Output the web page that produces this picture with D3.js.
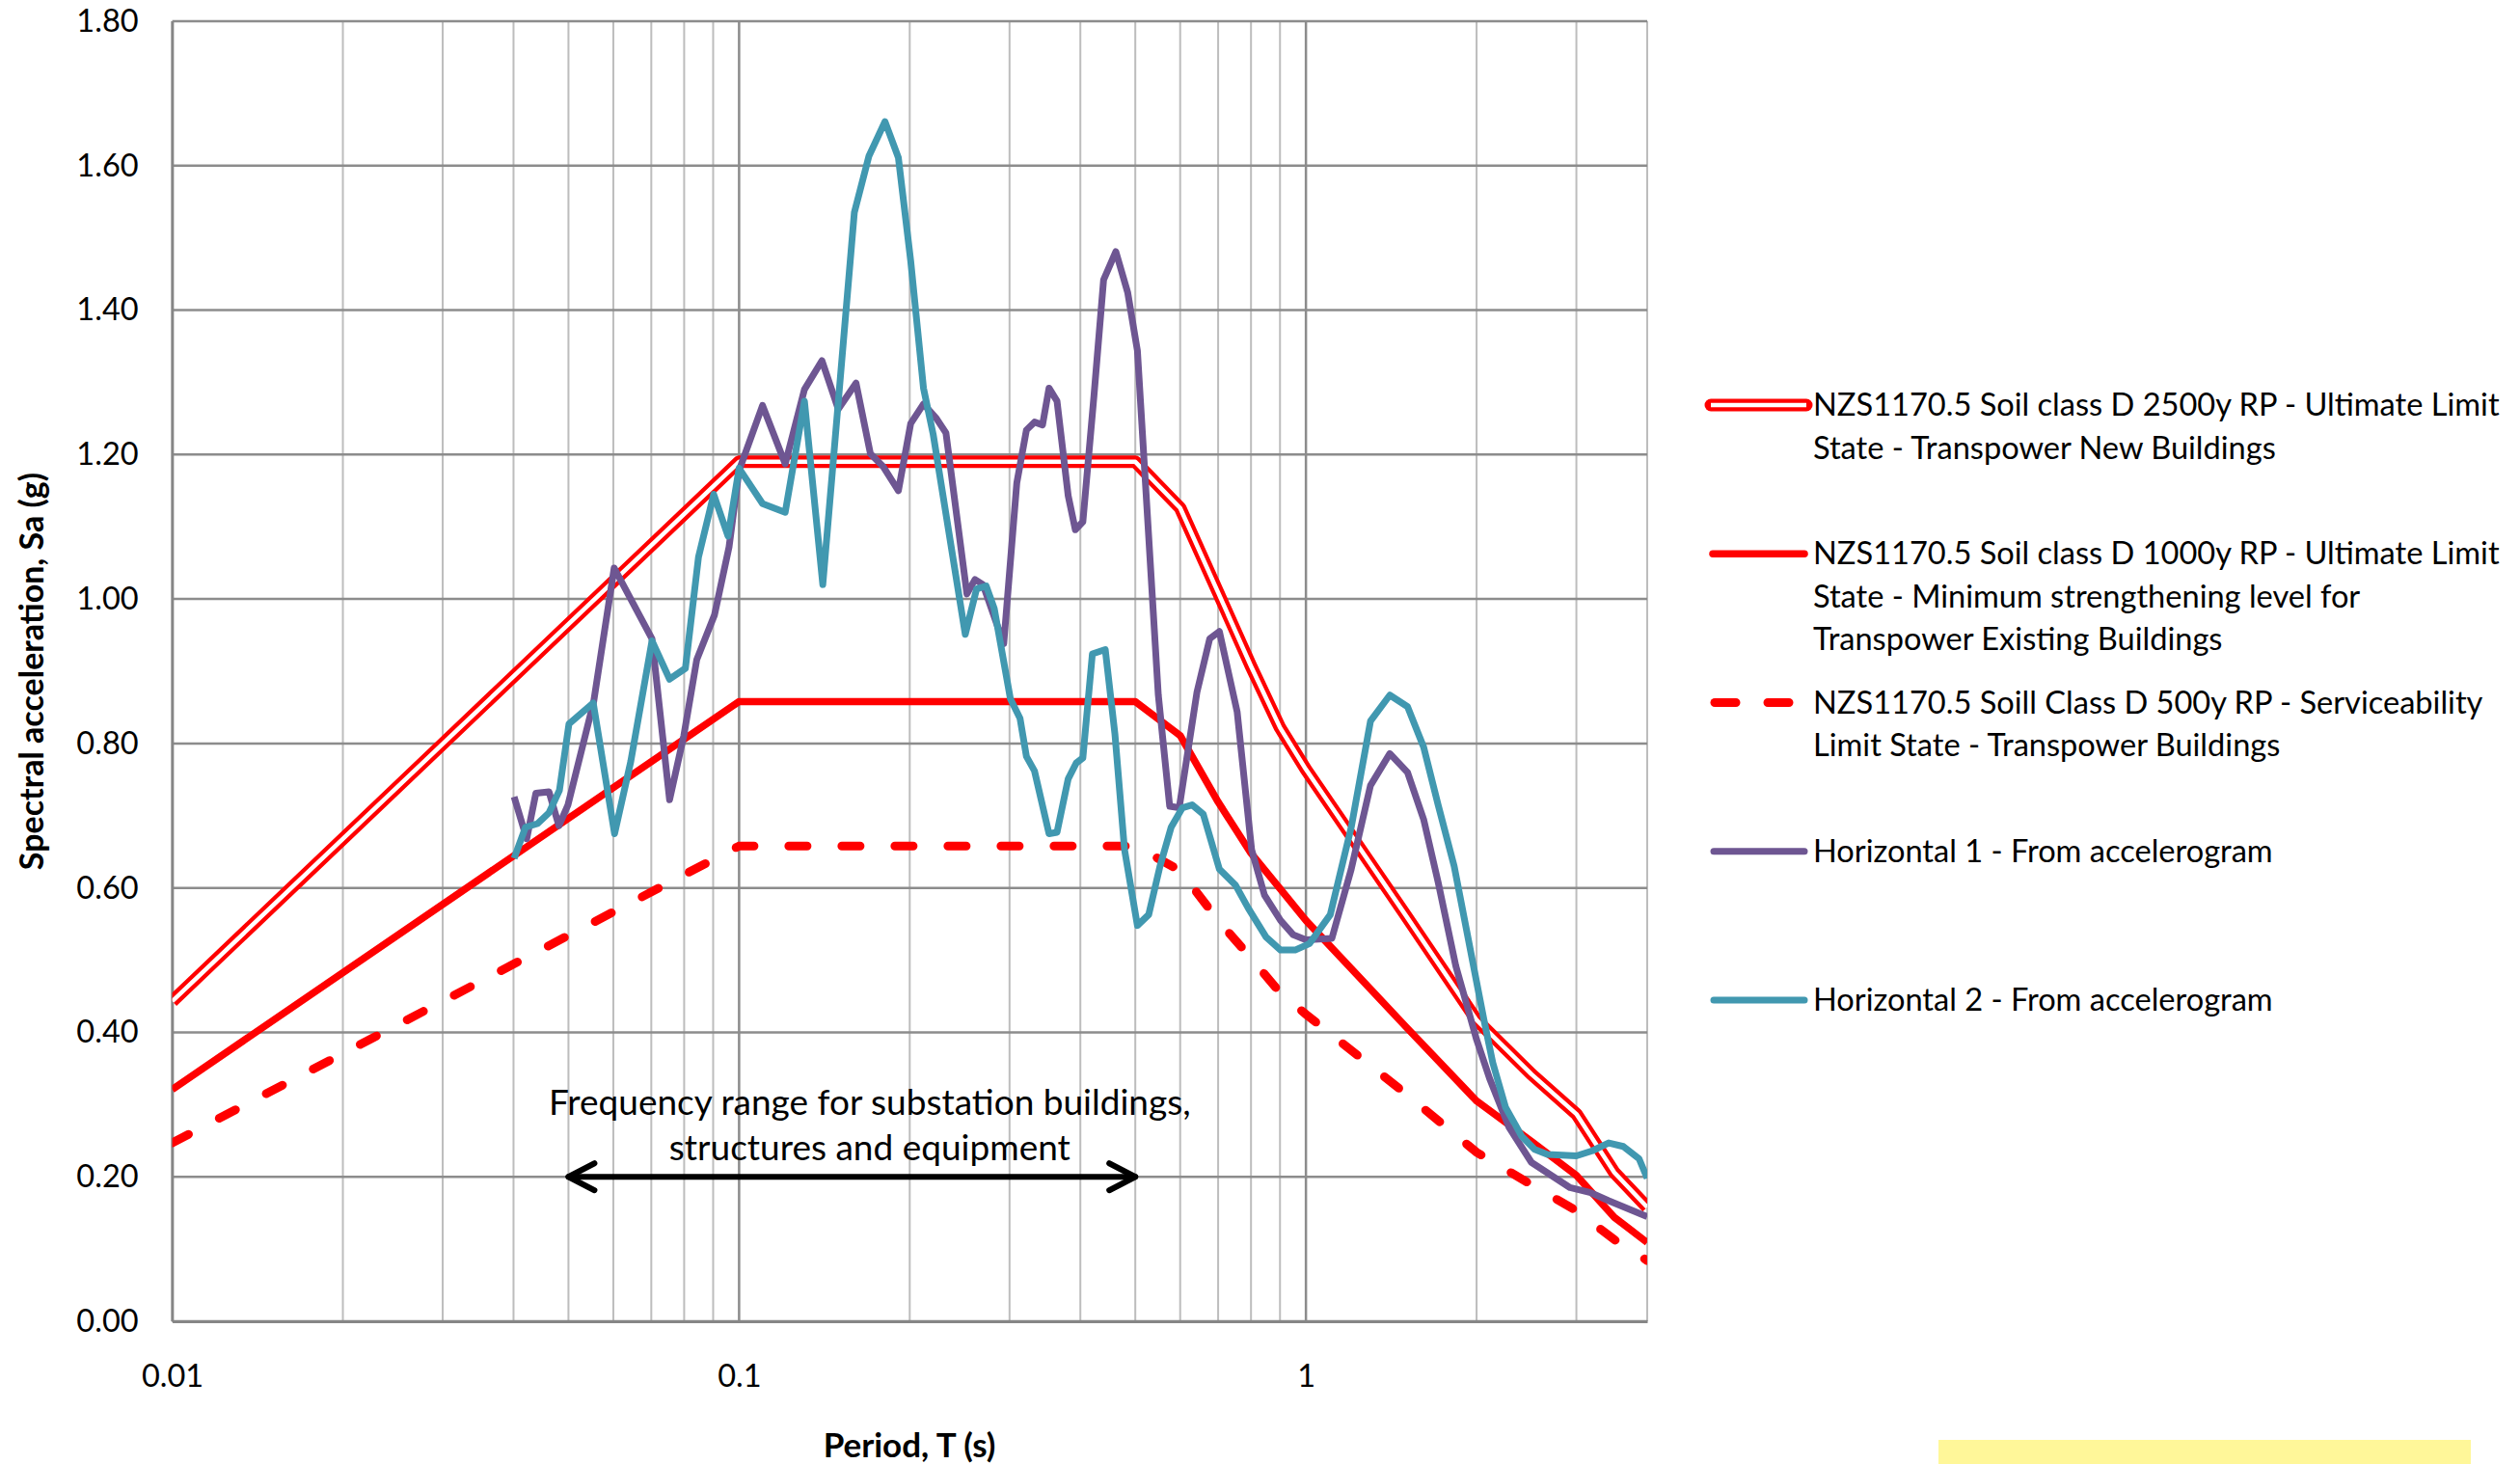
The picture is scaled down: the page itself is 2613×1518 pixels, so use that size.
<!DOCTYPE html>
<html>
<head>
<meta charset="utf-8">
<script src="https://cdn.jsdelivr.net/npm/d3@7"></script>
<style>
  body { margin: 0; background: #fff; }
  svg { display: block; }
  text { font-family: Lato, "Open Sans", sans-serif; fill: #000; }
</style>
</head>
<body>
<div id="chart"></div>
<script>
// NZS1170.5 design spectra (soil class D)
var nzsPeriod = [0.01, 0.1, 0.2, 0.3, 0.4, 0.5, 0.6, 0.7, 0.8, 0.9, 1.0, 1.5, 2.0, 2.5, 3.0, 3.5, 4.0]
var sa2500 = [0.443, 1.19, 1.19, 1.19, 1.19, 1.19, 1.126, 1.009, 0.907, 0.822, 0.764, 0.562, 0.417, 0.342, 0.287, 0.206, 0.158]
var sa1000 = [0.321, 0.858, 0.858, 0.858, 0.858, 0.858, 0.811, 0.719, 0.648, 0.599, 0.555, 0.408, 0.305, 0.249, 0.202, 0.144, 0.109]
var sa500 = [0.247, 0.658, 0.658, 0.658, 0.658, 0.658, 0.624, 0.555, 0.503, 0.455, 0.425, 0.315, 0.234, 0.189, 0.153, 0.113, 0.084]

// response spectra from accelerogram
var h1Period = [0.0401, 0.0422, 0.0438, 0.0462, 0.0481, 0.0499, 0.0554, 0.0602, 0.0702, 0.0754,
    0.0799, 0.0842, 0.0905, 0.096, 0.1, 0.11, 0.1206, 0.1304, 0.14, 0.1496,
    0.1608, 0.1705, 0.1797, 0.191, 0.2008, 0.2115, 0.2229, 0.2317, 0.2523, 0.2607,
    0.2693, 0.293, 0.309, 0.3213, 0.332, 0.343, 0.3522, 0.3638, 0.3807, 0.3919,
    0.4041, 0.4227, 0.4396, 0.462, 0.4849, 0.5043, 0.549, 0.575, 0.5977, 0.6423,
    0.6765, 0.7036, 0.7562, 0.802, 0.845, 0.902, 0.95, 1.0, 1.111, 1.202,
    1.30, 1.406, 1.511, 1.613, 1.711, 1.838, 2.0, 2.109, 2.28, 2.499,
    2.924, 3.18, 3.42, 4.0]
var h1Sa = [0.726, 0.668, 0.731, 0.733, 0.686, 0.715, 0.858, 1.043, 0.945, 0.722,
    0.811, 0.916, 0.978, 1.072, 1.178, 1.268, 1.187, 1.29, 1.33, 1.263,
    1.299, 1.201, 1.183, 1.15, 1.243, 1.27, 1.25, 1.23, 1.007, 1.027,
    1.02, 0.938, 1.161, 1.234, 1.245, 1.241, 1.292, 1.274, 1.143, 1.096,
    1.107, 1.281, 1.442, 1.481, 1.424, 1.344, 0.867, 0.713, 0.711, 0.871,
    0.945, 0.955, 0.844, 0.653, 0.590, 0.555, 0.535, 0.528, 0.530, 0.626,
    0.742, 0.786, 0.760, 0.695, 0.608, 0.492, 0.390, 0.336, 0.269, 0.220,
    0.185, 0.178, 0.167, 0.145]

var h2Period = [0.0401, 0.042, 0.0441, 0.0462, 0.0482, 0.0501, 0.0553, 0.0603, 0.0644, 0.0702,
    0.0754, 0.0804, 0.0848, 0.0902, 0.0956, 0.1, 0.11, 0.1206, 0.1304, 0.1405,
    0.1597, 0.1694, 0.1809, 0.191, 0.2008, 0.2115, 0.22, 0.2506, 0.2624, 0.2729,
    0.2819, 0.301, 0.313, 0.3213, 0.332, 0.3522, 0.3638, 0.3807, 0.3934, 0.4041,
    0.42, 0.4426, 0.4603, 0.4786, 0.5043, 0.528, 0.5527, 0.5784, 0.6055, 0.6297,
    0.659, 0.7036, 0.751, 0.791, 0.8505, 0.902, 0.957, 1.015, 1.104, 1.202,
    1.30, 1.406, 1.511, 1.613, 1.711, 1.826, 2.06, 2.136, 2.25, 2.403,
    2.532, 2.667, 3.0, 3.2, 3.42, 3.63, 3.87, 4.0]
var h2Sa = [0.641, 0.684, 0.689, 0.704, 0.735, 0.827, 0.856, 0.675, 0.775, 0.942,
    0.889, 0.904, 1.058, 1.145, 1.087, 1.181, 1.132, 1.12, 1.274, 1.020,
    1.535, 1.613, 1.661, 1.611, 1.468, 1.292, 1.228, 0.951, 1.014, 1.018,
    0.987, 0.862, 0.835, 0.782, 0.762, 0.675, 0.677, 0.751, 0.773, 0.780,
    0.924, 0.930, 0.813, 0.653, 0.548, 0.563, 0.630, 0.684, 0.711, 0.715,
    0.702, 0.626, 0.604, 0.572, 0.532, 0.514, 0.514, 0.523, 0.563, 0.684,
    0.831, 0.867, 0.851, 0.795, 0.715, 0.630, 0.418, 0.358, 0.296, 0.256,
    0.238, 0.231, 0.229, 0.236, 0.247, 0.242, 0.225, 0.198]

var xLabels = [0.01, 0.1, 1]
var rangeStart = 0.05, rangeEnd = 0.5, rangeLevel = 0.2

var legendNames = [
    ["NZS1170.5 Soil class D 2500y RP - Ultimate Limit", "State - Transpower New Buildings"],
    ["NZS1170.5 Soil class D 1000y RP - Ultimate Limit", "State - Minimum strengthening level for", "Transpower Existing Buildings"],
    ["NZS1170.5 Soill Class D 500y RP - Serviceability", "Limit State - Transpower Buildings"],
    ["Horizontal 1 - From accelerogram"],
    ["Horizontal 2 - From accelerogram"]
]

var W = 2613, H = 1518
var margin = {top: 22, left: 178.6, right: 905, bottom: 148}
var red = "#ff0000", purple = "#6e5692", teal = "#4198b0"

var svg = d3.select("#chart").append("svg")
    .attr("width", W).attr("height", H)

var x = d3.scaleLog().domain([0.01, 4]).range([margin.left, W - margin.right])
var y = d3.scaleLinear().domain([0, 1.8]).range([H - margin.bottom, margin.top])

svg.append("clipPath").attr("id", "plot-clip")
    .append("rect")
    .attr("x", x(0.01)).attr("y", y(1.8) - 10)
    .attr("width", x(4) - x(0.01)).attr("height", y(0) - y(1.8) + 20)

// gridlines
var isDecade = d => Math.abs(Math.log10(d) - Math.round(Math.log10(d))) < 1e-6
svg.append("g")
    .selectAll("line")
    .data(x.ticks())
    .enter().append("line")
        .attr("x1", d => x(d)).attr("x2", d => x(d))
        .attr("y1", y(1.8)).attr("y2", y(0))
        .attr("stroke", d => isDecade(d) ? "#8c8c8c" : "#bdbdbd")
        .attr("stroke-width", d => isDecade(d) ? 2.5 : 2)

svg.append("g")
    .selectAll("line")
    .data(y.ticks(9))
    .enter().append("line")
        .attr("x1", x(0.01)).attr("x2", x(4))
        .attr("y1", d => y(d)).attr("y2", d => y(d))
        .attr("stroke", "#8c8c8c")
        .attr("stroke-width", 2.5)

// axes
svg.append("g")
    .attr("transform", "translate(" + x(0.01) + ",0)")
    .call(d3.axisLeft(y).tickValues(y.ticks(9)).tickFormat(d3.format(".2f")).tickSize(0).tickPadding(35))
    .call(g => g.select(".domain").attr("stroke", "#868686").attr("stroke-width", 2.5))
    .selectAll("text").attr("font-size", 32.5).attr("font-family", "Lato")

svg.append("g")
    .attr("transform", "translate(0," + y(0) + ")")
    .call(d3.axisBottom(x).tickValues(xLabels).tickFormat(d => d).tickSize(0).tickPadding(45))
    .call(g => g.select(".domain").attr("stroke", "#868686").attr("stroke-width", 3))
    .selectAll("text").attr("font-size", 32.5).attr("font-family", "Lato")

// series
var plot = svg.append("g").attr("clip-path", "url(#plot-clip)")
var line = d3.line().x(d => x(d[0])).y(d => y(d[1]))
var zip = (a, b) => a.map((d, i) => [d, b[i]])

plot.append("path").datum(zip(nzsPeriod, sa2500))
    .attr("d", line).attr("fill", "none")
    .attr("stroke", red).attr("stroke-width", 13).attr("stroke-linejoin", "round")
plot.append("path").datum(zip(nzsPeriod, sa2500))
    .attr("d", line).attr("fill", "none")
    .attr("stroke", "#fff").attr("stroke-width", 4.5).attr("stroke-linejoin", "round")

plot.append("path").datum(zip(nzsPeriod, sa1000))
    .attr("d", line).attr("fill", "none")
    .attr("stroke", red).attr("stroke-width", 7.5).attr("stroke-linejoin", "round")

plot.append("path").datum(zip(nzsPeriod, sa500))
    .attr("d", line).attr("fill", "none")
    .attr("stroke", red).attr("stroke-width", 9)
    .attr("stroke-dasharray", "19,36").attr("stroke-linecap", "round")

plot.append("path").datum(zip(h1Period, h1Sa))
    .attr("d", line).attr("fill", "none")
    .attr("stroke", purple).attr("stroke-width", 7).attr("stroke-linejoin", "round")

plot.append("path").datum(zip(h2Period, h2Sa))
    .attr("d", line).attr("fill", "none")
    .attr("stroke", teal).attr("stroke-width", 7).attr("stroke-linejoin", "round")

// frequency range annotation
var arrow = svg.append("g")
    .attr("stroke", "#000").attr("stroke-width", 6)
    .attr("stroke-linecap", "round").attr("stroke-linejoin", "round").attr("fill", "none")
var ay = y(rangeLevel), ax1 = x(rangeStart), ax2 = x(rangeEnd)
arrow.append("line").attr("x1", ax1).attr("x2", ax2).attr("y1", ay).attr("y2", ay)
arrow.append("path").attr("d", "M" + (ax1 + 27) + "," + (ay - 14) + "L" + ax1 + "," + ay + "L" + (ax1 + 27) + "," + (ay + 14))
arrow.append("path").attr("d", "M" + (ax2 - 27) + "," + (ay - 14) + "L" + ax2 + "," + ay + "L" + (ax2 - 27) + "," + (ay + 14))

var note = svg.append("text")
    .attr("text-anchor", "middle").attr("font-size", 37)
note.append("tspan").attr("x", x(0.17)).attr("y", ay - 64).text("Frequency range for substation buildings,")
note.append("tspan").attr("x", x(0.17)).attr("y", ay - 17).text("structures and equipment")

// axis titles
svg.append("text")
    .attr("transform", "translate(45," + (y(0.9)) + ") rotate(-90)")
    .attr("text-anchor", "middle").attr("font-size", 34).attr("font-weight", "bold")
    .text("Spectral acceleration, Sa (g)")

svg.append("text")
    .attr("x", 943).attr("y", 1511)
    .attr("text-anchor", "middle").attr("font-size", 35).attr("font-weight", "bold")
    .text("Period, T (s)")

// legend
var legend = svg.append("g").attr("transform", "translate(1774,420)")
var rowGap = 154.25
legendNames.forEach(function(lines, i) {
    var g = legend.append("g").attr("transform", "translate(0," + (i * rowGap) + ")")
    if (i == 0) {
        g.append("line").attr("x1", 0).attr("x2", 99).attr("stroke", red).attr("stroke-width", 13).attr("stroke-linecap", "round")
        g.append("line").attr("x1", 0).attr("x2", 99).attr("stroke", "#fff").attr("stroke-width", 4.5)
    } else if (i == 1) {
        g.append("line").attr("x1", 2).attr("x2", 97).attr("stroke", red).attr("stroke-width", 7.5).attr("stroke-linecap", "round")
    } else if (i == 2) {
        g.append("line").attr("x1", 4).attr("x2", 90).attr("stroke", red).attr("stroke-width", 9)
            .attr("stroke-dasharray", "22,33").attr("stroke-linecap", "round")
    } else {
        g.append("line").attr("x1", 3).attr("x2", 97).attr("stroke", i == 3 ? purple : teal)
            .attr("stroke-width", 7).attr("stroke-linecap", "round")
    }
    var t = g.append("text").attr("font-size", 32.6)
    lines.forEach(function(s, j) {
        t.append("tspan").attr("x", 106).attr("y", j * 44.5 + 11).text(s)
    })
})

// note box at bottom right (cut off by the page edge)
svg.append("rect")
    .attr("x", 2010).attr("y", 1493).attr("width", 552).attr("height", 40)
    .attr("fill", "#fff799")
</script>
</body>
</html>
